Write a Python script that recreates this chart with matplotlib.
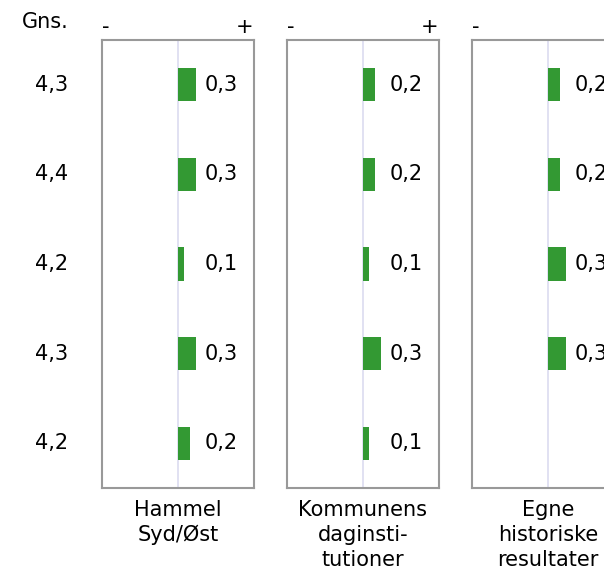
import numpy as np
import matplotlib
matplotlib.use("Agg")
import matplotlib.pyplot as plt

# average score per question (left column)
gns = [4.3, 4.4, 4.2, 4.3, 4.2]

# difference per comparison panel (nan = no value)
panels = ["Hammel\nSyd/Øst", "Kommunens\ndaginsti-\ntutioner", "Egne\nhistoriske\nresultater"]
diff_hammel = [0.3, 0.3, 0.1, 0.3, 0.2]
diff_kommune = [0.2, 0.2, 0.1, 0.3, 0.1]
diff_egne = [0.2, 0.2, 0.3, 0.3, np.nan]
diffs = [diff_hammel, diff_kommune, diff_egne]

def fmt(v):
    return f"{v:.1f}".replace(".", ",")

plt.rcParams["font.family"] = "DejaVu Sans"
fs = 15
green = "#339933"
edge = "#999999"

W, H = 604, 570
fig = plt.figure(figsize=(W / 100, H / 100), dpi=100)

lefts = [102, 287, 472]
box_w, box_top, box_bot = 152, 40, 488
rows = np.arange(len(gns))

axes = []
for left, vals, name in zip(lefts, diffs, panels):
    ax = fig.add_axes([left / W, 1 - box_bot / H, box_w / W, (box_bot - box_top) / H])
    ax.set_xlim(-1.25, 1.25)
    ax.set_ylim(len(gns) - 0.5, -0.5)
    ax.axvline(0, color="#dcdcf0", lw=1.2, zorder=1)
    v = np.array(vals, dtype=float)
    ok = ~np.isnan(v)
    ax.barh(rows[ok], v[ok], height=0.37, color=green, zorder=2)
    for i in rows[ok]:
        ax.text(0.43, i, fmt(v[i]), ha="left", va="center", fontsize=fs)
    ax.set_xticks([])
    ax.set_yticks([])
    for s in ax.spines.values():
        s.set_color(edge)
        s.set_linewidth(1.5)
    ax.text(0.026, 1.03, "-", transform=ax.transAxes, ha="center", va="center", fontsize=fs)
    ax.text(0.94, 1.03, "+", transform=ax.transAxes, ha="center", va="center", fontsize=fs)
    ax.text(0.5, -0.027, name, transform=ax.transAxes, ha="center", va="top",
            fontsize=fs, linespacing=1.3)
    axes.append(ax)

ax1 = axes[0]
tr = ax1.get_yaxis_transform()
for i, g in enumerate(gns):
    ax1.text(-0.33, i, fmt(g), transform=tr, ha="center", va="center", fontsize=fs)
fig.text(45 / W, 1 - 22 / H, "Gns.", ha="center", va="center", fontsize=fs)

fig.savefig("out.png", dpi=100)
